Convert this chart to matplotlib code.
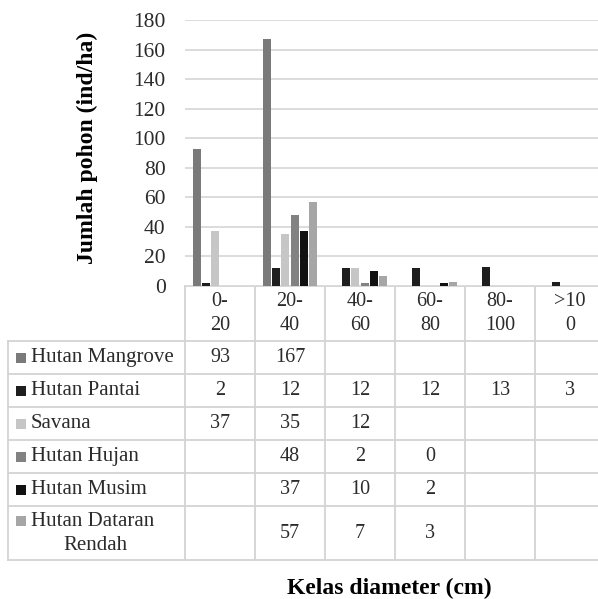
import matplotlib
matplotlib.use('Agg')
import matplotlib.pyplot as plt
import numpy as np

# ---------------- data ----------------
categories = ['0-\n20', '20-\n40', '40-\n60', '60-\n80', '80-\n100', '>10\n0']
series_names = ['Hutan Mangrove', 'Hutan Pantai', 'Savana', 'Hutan Hujan',
                'Hutan Musim', 'Hutan Dataran\nRendah']
mangrove = [93, 167, None, None, None, None]
pantai = [2, 12, 12, 12, 13, 3]
savana = [37, 35, 12, None, None, None]
hujan = [None, 48, 2, 0, None, None]
musim = [None, 37, 10, 2, None, None]
dataran = [None, 57, 7, 3, None, None]
yticks = [0, 20, 40, 60, 80, 100, 120, 140, 160, 180]
colors = ['#7a7a7a', '#1e1e1e', '#c6c6c6', '#828282', '#111111', '#a6a6a6']

series = [mangrove, pantai, savana, hujan, musim, dataran]

# ---------------- layout ----------------
W, H = 598, 599
FONT = 'Liberation Serif'
plt.rcParams['font.family'] = [FONT, 'DejaVu Serif']
TXT = '#2b2b2b'
FS_TICK = 15.5
FS_NUM = 14.5
FS_LAB = 15

fig = plt.figure(figsize=(W / 100, H / 100), dpi=100)
fig.patch.set_facecolor('white')

x0, ytop, ybot, colw = 185, 20, 286, 70
ax = fig.add_axes([x0 / W, (H - ybot) / H, (W - x0) / W, (ybot - ytop) / H])
ax.set_xlim(0, (W - x0) / colw)
ax.set_ylim(0, 180)
for s in ax.spines.values():
    s.set_visible(False)
ax.set_yticks(yticks)
ax.set_xticks([])
ax.tick_params(axis='y', length=0, pad=14, labelsize=FS_TICK, labelcolor=TXT)
ax.yaxis.grid(True, color='#d9d9d9', linewidth=1.3)
ax.set_axisbelow(True)

n = len(series)
step, bw = 0.133, 0.112
xs = np.arange(len(categories)) + 0.5
for j, (vals, c) in enumerate(zip(series, colors)):
    v = np.array([np.nan if q is None else q for q in vals], dtype=float)
    ax.bar(xs + (j - (n - 1) / 2) * step, v, width=bw, color=c, zorder=3)

fig.text(87 / W, 1 - 148 / H, 'Jumlah pohon (ind/ha)', rotation=90,
         ha='center', va='center', fontsize=17, fontweight='bold', color='black')

# ---------------- data table ----------------
tab = fig.add_axes([0, 0, 1, 1], zorder=-1)
tab.set_xlim(0, W)
tab.set_ylim(H, 0)
tab.axis('off')

lc, lw = '#d3d3d3', 1.3
tab_left = 8
rows_y = [341, 374, 407, 440, 473, 506, 560]
col_x = [x0 + colw * i for i in range(len(categories))]

# header row
tab.plot([x0, W], [ybot, ybot], color=lc, lw=lw)
for i, cat in enumerate(categories):
    cx = x0 + colw * (i + 0.5)
    l1, l2 = cat.split('\n')
    tab.text(cx, 302, l1, ha='center', va='center', fontsize=FS_NUM, color=TXT)
    tab.text(cx, 326, l2, ha='center', va='center', fontsize=FS_NUM, color=TXT)
for x in col_x:
    tab.plot([x, x], [ybot, rows_y[-1]], color=lc, lw=lw)
tab.plot([tab_left, tab_left], [rows_y[0], rows_y[-1]], color=lc, lw=lw)
for y in rows_y:
    tab.plot([tab_left, W], [y, y], color=lc, lw=lw)

for r, (name, vals, c) in enumerate(zip(series_names, series, colors)):
    top, bot = rows_y[r], rows_y[r + 1]
    cy = (top + bot) / 2
    if '\n' in name:
        l1, l2 = name.split('\n')
        ly = top + 15
        tab.text(31, ly, l1, ha='left', va='center', fontsize=FS_LAB, color=TXT)
        tab.text(95, ly + 24, l2, ha='center', va='center', fontsize=FS_LAB, color=TXT)
    else:
        ly = cy
        tab.text(31, ly, name, ha='left', va='center', fontsize=FS_LAB, color=TXT)
    tab.scatter([21], [ly], marker='s', s=50, color=c, linewidths=0)
    for i, v in enumerate(vals):
        if v is not None:
            tab.text(x0 + colw * (i + 0.5), cy, str(v), ha='center', va='center',
                     fontsize=FS_NUM, color=TXT)

fig.text(389 / W, 1 - 588 / H, 'Kelas diameter (cm)', ha='center', va='center',
         fontsize=17, fontweight='bold', color='black')

fig.savefig('out.png', dpi=100)
